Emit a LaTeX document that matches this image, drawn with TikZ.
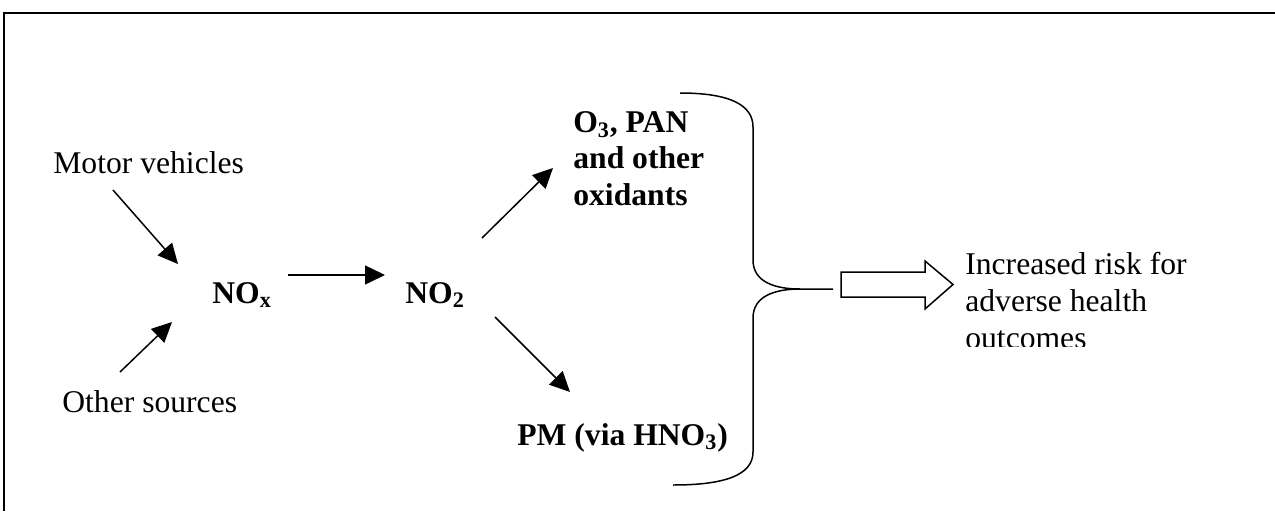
\documentclass[tikz,border=0pt]{standalone}
\usepackage{fontspec}
\setmainfont{Liberation Serif}
\usetikzlibrary{calc,arrows.meta}

\tikzset{
  lbl/.style={inner sep=0pt, anchor=base west, font=\fontsize{18}{21}\selectfont},
  blbl/.style={lbl, font=\fontsize{18}{20.5}\selectfont\bfseries, align=left},
  arr/.style={line width=0.85pt, -{Triangle[length=0.4cm, width=0.38cm]}},
  brc/.style={line width=0.85pt},
}

\begin{document}
\begin{tikzpicture}[x=0.02cm, y=-0.02cm]
  \useasboundingbox (0,0) rectangle (1275,511);
  % frame (cut off at right and bottom)
  \draw[line width=1.1pt] (3,13) -- (1275,13);
  \draw[line width=0.6pt] (4,13) -- (4,511);
  % sources and species (multi-line nodes sit on their last line)
  \node[lbl] (mv) at (53,173) {Motor vehicles};
  \node[lbl] (os) at (62,412) {Other sources};
  \node[blbl] (nox) at (212,303) {NO\textsubscript{x}};
  \node[blbl] (no2) at (405,303) {NO\textsubscript{2}};
  \node[blbl] (ox) at (573,205) {O\textsubscript{3}, PAN\\and other\\oxidants};
  \node[blbl] (pm) at (517,445) {PM (via HNO\textsubscript{3})};
  \draw[arr] ($(mv.base west)+(60,17)$) -- ($(nox.base west)+(-34,-39)$);
  \draw[arr] ($(os.base west)+(58,-40)$) -- ($(nox.base west)+(-40,19)$);
  \draw[arr] ($(nox.base west)+(76,-28)$) -- ($(no2.base west)+(-20,-28)$);
  \draw[arr] ($(no2.base west)+(77,-65)$) -- ($(ox.base west)+(-20,-37)$);
  \draw[arr] ($(no2.base west)+(90,14)$) -- ($(pm.base west)+(53,-53)$);
  % brace
  \draw[brc] (680,93) .. controls (730,93) and (753,105) .. (753,127)
    -- (753,260) .. controls (753,282) and (775,289) .. (800,289) -- (833,289);
  \draw[brc] (800,289) .. controls (775,289) and (753,296) .. (753,318)
    -- (753,452) .. controls (753,475) and (725,485) .. (673,485);
  % block arrow
  \draw[brc] (841,272) -- (925,272) -- (925,261) -- (953,284.5)
    -- (925,309) -- (925,297) -- (841,297) -- cycle;
  % outcome text, cut off at the bottom
  \begin{scope}
    \clip (955,240) rectangle (1275,346);
    \node[lbl, align=left] (risk) at (965,348) {Increased risk for\\adverse health\\outcomes};
  \end{scope}
\end{tikzpicture}
\end{document}
